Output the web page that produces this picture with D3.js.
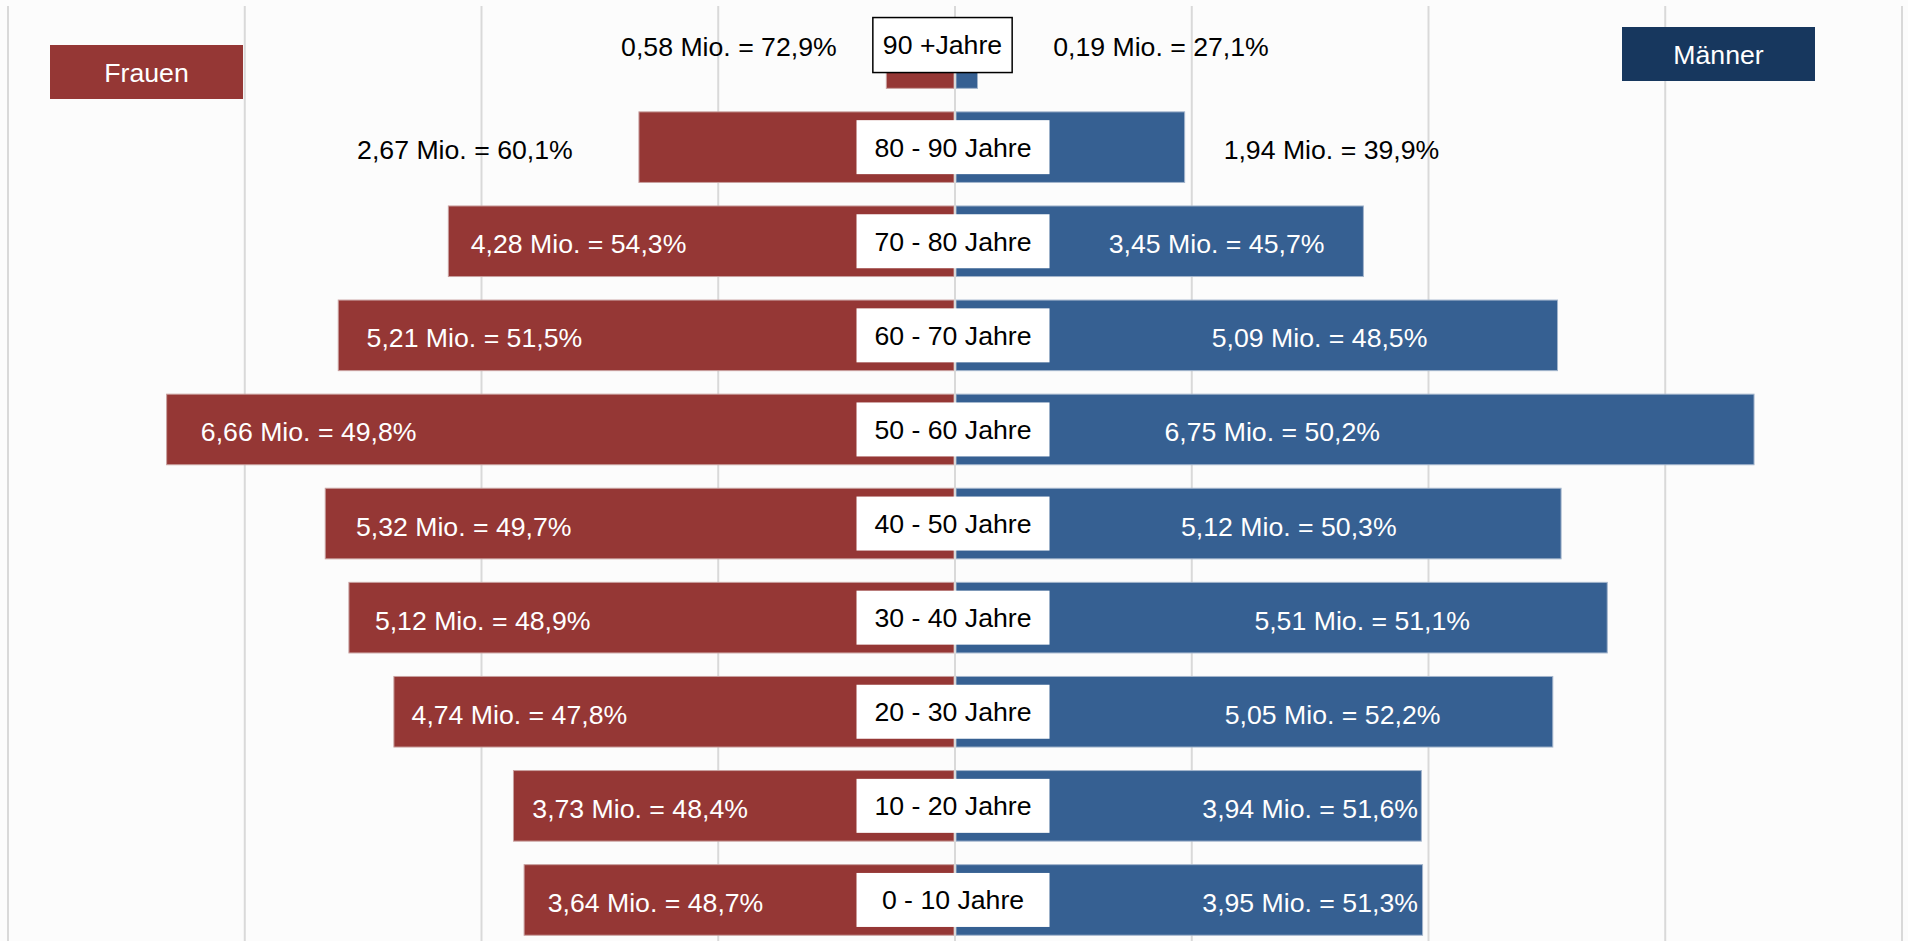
<!DOCTYPE html>
<html>
<head>
<meta charset="utf-8">
<script src="https://cdn.jsdelivr.net/npm/d3@7"></script>
<style>
  html, body { margin: 0; padding: 0; background: #fcfcfc; }
  svg { display: block; }
  text { font-family: "Liberation Sans", Arial, Helvetica, sans-serif; }
</style>
</head>
<body>
<svg id="chart" width="1908" height="941"></svg>
<script>
// Altersgruppen, von oben nach unten
const ageGroups = ["90 +Jahre", "80 - 90 Jahre", "70 - 80 Jahre", "60 - 70 Jahre", "50 - 60 Jahre",
                   "40 - 50 Jahre", "30 - 40 Jahre", "20 - 30 Jahre", "10 - 20 Jahre", "0 - 10 Jahre"];

// Bevölkerung in Millionen
const frauenMio  = [0.58, 2.67, 4.28, 5.21, 6.66, 5.32, 5.12, 4.74, 3.73, 3.64];
const maennerMio = [0.19, 1.94, 3.45, 5.09, 6.75, 5.12, 5.51, 5.05, 3.94, 3.95];

// Anteil an der Altersgruppe in Prozent
const frauenPct  = [72.9, 60.1, 54.3, 51.5, 49.8, 49.7, 48.9, 47.8, 48.4, 48.7];
const maennerPct = [27.1, 39.9, 45.7, 48.5, 50.2, 50.3, 51.1, 52.2, 51.6, 51.3];

// Achsenbereich (Mio.) und Gitterlinien
const axisDomain = [-8, 8];
const gridTicks = [-8, -6, -4, -2, 0, 2, 4, 6, 8];

// Mittelpunkte der Wertbeschriftungen auf der Achse (Mio.)
const frauenLabelAt  = [-1.91, -4.14, -3.18, -4.06, -5.46, -4.15, -3.99, -3.68, -2.66, -2.53];
const maennerLabelAt = [ 1.74,  3.18,  2.21,  3.08,  2.68,  2.82,  3.44,  3.19,  3.00,  3.00];

const W = 1908, H = 941;
const FONT = 26.67;
const RED = "#953735", BLUE = "#366092", NAVY = "#17375e", GRID = "#d9d9d9";

const svg = d3.select("#chart");
svg.append("rect").attr("width", W).attr("height", H).attr("fill", "#fcfcfc");

const x = d3.scaleLinear().domain(axisDomain).range([8, 1902]);
const y = d3.scaleBand().domain(ageGroups).range([6, 947])
  .paddingInner(0.25).paddingOuter(0.125);

const fmt = v => d3.format(".2f")(v).replace(".", ",");
const fmtPct = v => d3.format(".1f")(v).replace(".", ",") + "%";

const rows = ageGroups.map((g, i) => ({
  group: g, i,
  f: frauenMio[i], m: maennerMio[i],
  fp: frauenPct[i], mp: maennerPct[i],
  fAt: frauenLabelAt[i], mAt: maennerLabelAt[i],
  outside: i < 2
}));

// Gitterlinien
svg.append("g").selectAll("line").data(gridTicks.filter(t => t !== 0)).join("line")
  .attr("x1", d => x(d)).attr("x2", d => x(d))
  .attr("y1", 6).attr("y2", H)
  .attr("stroke", GRID).attr("stroke-width", 2);

// Balken
const bars = svg.append("g");
bars.selectAll("rect.f").data(rows).join("rect").attr("class", "f")
  .attr("x", d => x(-d.f)).attr("width", d => x(0) - x(-d.f) - 1)
  .attr("y", d => y(d.group)).attr("height", y.bandwidth())
  .attr("fill", RED).attr("stroke", "#c9a09f").attr("stroke-width", 1);
bars.selectAll("rect.m").data(rows).join("rect").attr("class", "m")
  .attr("x", x(0) + 1).attr("width", d => x(d.m) - x(0) - 1)
  .attr("y", d => y(d.group)).attr("height", y.bandwidth())
  .attr("fill", BLUE).attr("stroke", "#a3b5cc").attr("stroke-width", 1);

// Nulllinie
svg.append("line")
  .attr("x1", x(0)).attr("x2", x(0)).attr("y1", 6).attr("y2", H)
  .attr("stroke", GRID).attr("stroke-width", 2);

// Altersgruppen-Kästen
const cy = d => y(d.group) + y.bandwidth() / 2 + (d.i === 0 ? -8.5 : 0);
const boxes = svg.append("g").selectAll("g").data(rows).join("g");
boxes.append("text")
  .attr("x", d => x(0) + (d.i === 0 ? -12.5 : -2))
  .attr("y", d => cy(d) + 9.5)
  .attr("text-anchor", "middle")
  .attr("font-size", FONT).attr("fill", "#000")
  .text(d => d.group)
  .each(function (d) {
    const bb = this.getBBox();
    const w = d.i === 0 ? bb.width + 20 : 193;
    const cx = bb.x + bb.width / 2;
    d3.select(this.parentNode).insert("rect", "text")
      .attr("x", cx - w / 2).attr("y", cy(d) - 27)
      .attr("width", w).attr("height", d.i === 0 ? 55 : 54)
      .attr("fill", "#ffffff")
      .attr("stroke", d.i === 0 ? "#000" : "none")
      .attr("stroke-width", 1.5);
  });

// Wertbeschriftungen
const labelY = d => (d.i === 0 ? cy(d) + 1.5 : y(d.group) + y.bandwidth() / 2 + 2.5) + 9.5;
svg.append("g").selectAll("text").data(rows).join("text")
  .attr("x", d => x(d.fAt)).attr("y", labelY)
  .attr("text-anchor", "middle").attr("font-size", FONT)
  .attr("fill", d => d.outside ? "#000" : "#fff")
  .text(d => `${fmt(d.f)} Mio. = ${fmtPct(d.fp)}`);
svg.append("g").selectAll("text").data(rows).join("text")
  .attr("x", d => x(d.mAt)).attr("y", labelY)
  .attr("text-anchor", "middle").attr("font-size", FONT)
  .attr("fill", d => d.outside ? "#000" : "#fff")
  .text(d => `${fmt(d.m)} Mio. = ${fmtPct(d.mp)}`);

// Legende
const legend = [
  { name: "Frauen", color: RED,  x: 50,   y: 45 },
  { name: "Männer", color: NAVY, x: 1622, y: 27 }
];
const lg = svg.append("g").selectAll("g").data(legend).join("g");
lg.append("rect").attr("x", d => d.x).attr("y", d => d.y)
  .attr("width", 193).attr("height", 54).attr("fill", d => d.color);
lg.append("text").attr("x", d => d.x + 96.5).attr("y", d => d.y + 27 + 9.5)
  .attr("text-anchor", "middle").attr("font-size", FONT).attr("fill", "#fff")
  .text(d => d.name);
</script>
</body>
</html>
